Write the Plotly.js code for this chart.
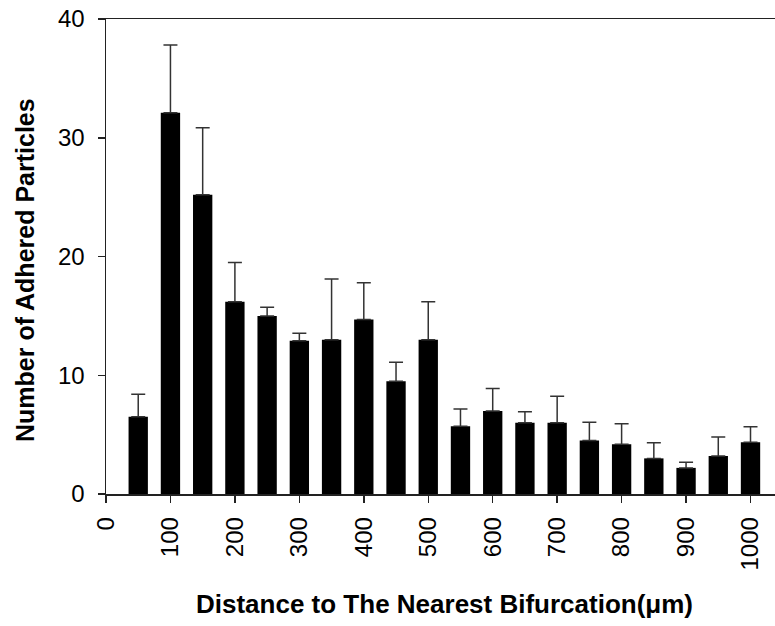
<!DOCTYPE html>
<html>
<head>
<meta charset="utf-8">
<script src="https://cdn.plot.ly/plotly-3.0.1.min.js"></script>
<style>html,body{margin:0;padding:0;background:#fff;}#chart{width:775px;height:626px;}</style>
</head>
<body>
<div id="chart"></div>
<script>
// Distance bins (µm) – bar centres
const distances = [50, 100, 150, 200, 250, 300, 350, 400, 450, 500, 550, 600, 650, 700, 750, 800, 850, 900, 950, 1000];
// Mean number of adhered particles
const meanParticles = [6.5, 32.1, 25.2, 16.2, 15.0, 12.9, 13.0, 14.7, 9.5, 13.0, 5.7, 7.0, 6.0, 6.0, 4.5, 4.2, 3.0, 2.2, 3.2, 4.35];
// Upper error (SE)
const errParticles = [1.9, 5.7, 5.65, 3.3, 0.73, 0.64, 5.1, 3.1, 1.6, 3.2, 1.46, 1.88, 0.92, 2.24, 1.54, 1.71, 1.32, 0.48, 1.6, 1.32];
// Tick values
const xTicks = [0, 100, 200, 300, 400, 500, 600, 700, 800, 900, 1000];
const yTicks = [0, 10, 20, 30, 40];
// Axis titles
const xTitle = 'Distance to The Nearest Bifurcation(\u03bcm)';
const yTitle = 'Number of Adhered Particles';

const trace = {
  type: 'bar',
  x: distances,
  y: meanParticles,
  width: 30,
  marker: {color: '#000000', line: {width: 0}},
  error_y: {
    type: 'data',
    array: errParticles,
    symmetric: false,
    arrayminus: errParticles.map(() => 0),
    visible: true,
    color: '#333333',
    thickness: 1.5,
    width: 7
  },
  hoverinfo: 'none'
};

const FONT = 'Liberation Sans, Arial, sans-serif';

const layout = {
  width: 775,
  height: 626,
  margin: {l: 106, r: 0, t: 19, b: 132, pad: 0},
  paper_bgcolor: '#ffffff',
  plot_bgcolor: '#ffffff',
  showlegend: false,
  font: {family: FONT, color: '#000'},
  xaxis: {
    range: [0, 1038],
    tickmode: 'array',
    tickvals: xTicks,
    ticktext: xTicks.map(String),
    tickangle: -90,
    ticks: 'outside',
    ticklen: 7,
    tickwidth: 1.5,
    tickcolor: '#222',
    showline: true,
    linecolor: '#222',
    linewidth: 1.5,
    mirror: true,
    showgrid: false,
    zeroline: false,
    tickfont: {size: 24, family: FONT},
    ticklabelstandoff: 5,
    automargin: false
  },
  yaxis: {
    range: [0, 40],
    tickmode: 'array',
    tickvals: yTicks,
    ticktext: yTicks.map(String),
    ticks: 'outside',
    ticklen: 7,
    tickwidth: 1.5,
    tickcolor: '#222',
    showline: true,
    linecolor: '#222',
    linewidth: 1.5,
    mirror: false,
    showgrid: false,
    zeroline: false,
    tickfont: {size: 24, family: FONT},
    ticklabelstandoff: 8,
    automargin: false
  },
  annotations: [
    {
      text: xTitle,
      xref: 'paper', yref: 'paper',
      x: 0.5067, y: -0.2316,
      xanchor: 'center', yanchor: 'middle',
      showarrow: false,
      font: {size: 26, family: FONT, weight: 'bold', color: '#000'}
    },
    {
      text: yTitle,
      xref: 'paper', yref: 'paper',
      x: -0.1211, y: 0.4716,
      xanchor: 'center', yanchor: 'middle',
      textangle: -90,
      showarrow: false,
      font: {size: 25, family: FONT, weight: 'bold', color: '#000'}
    }
  ]
};

Plotly.newPlot('chart', [trace], layout, {displayModeBar: false, staticPlot: true});
</script>
</body>
</html>
